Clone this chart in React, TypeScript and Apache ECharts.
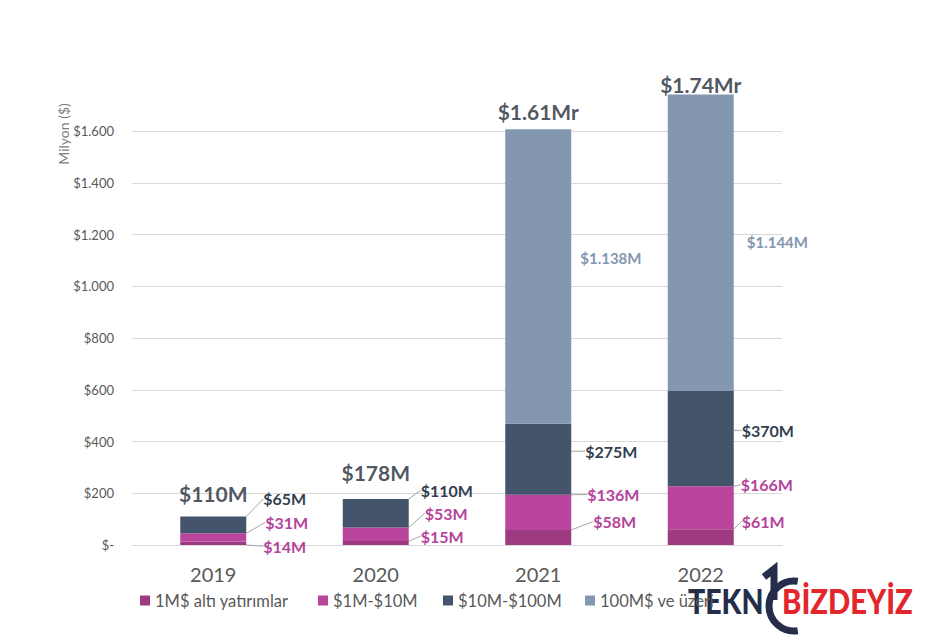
import React, { useEffect, useRef } from "react";
import * as echarts from "echarts";

// ---- data ----
const years = ["2019", "2020", "2021", "2022"];
const seriesNames = ["1M$ altı yatırımlar", "$1M-$10M", "$10M-$100M", "100M$ ve üzeri"];
const under1M = [14, 15, 58, 61];
const from1To10M = [31, 53, 136, 166];
const from10To100M = [65, 110, 275, 370];
const over100M: (number | null)[] = [null, null, 1138, 1144];
const yAxisName = "Milyon ($)";

// ---- style ----
const FONT = "Lato, 'Open Sans', sans-serif";
const barColors = ["#9E3A7F", "#BA459C", "#44546A", "#8497B0"];
const labelColors = ["#B4449A", "#B4449A", "#333F50", "#8497B0"];
// [dx from bar right edge, dy from segment centre]
const segOffsets: number[][][] = [
  [[17, 3], [12, -7], [22, -16], [8, -16]],
  [[19, -15], [16, -21], [16, -18], [7, -23]],
  [[17, -26], [12, -23], [14, -8], [8, -8]],
  [[9, -18], [9, -18], [9, -18], [13, -1]],
];
const totalUp = [23, 26, 18, 10];
const legendLefts = [140, 318, 443, 585];

const fmtThousands = (v: number) => String(v).replace(/\B(?=(\d{3})+(?!\d))/g, ".");
const fmtSeg = (v: number) => "$" + fmtThousands(v) + "M";
const fmtTotal = (t: number) => (t >= 1000 ? "$" + (t / 1000).toFixed(2) + "Mr" : "$" + t + "M");

export default function App() {
  const ref = useRef<HTMLDivElement>(null);
  useEffect(() => {
    if (!ref.current) return;
    const chart = echarts.init(ref.current, undefined, { renderer: "svg" });
    const allSeries = [under1M, from1To10M, from10To100M, over100M];
    const totals = years.map((_, i) =>
      allSeries.reduce((s, arr) => s + ((arr[i] as number) || 0), 0)
    );

    const barSeries = allSeries.map((arr, s) => ({
      name: seriesNames[s],
      type: "bar",
      stack: "total",
      barWidth: 66,
      clip: false,
      itemStyle: { color: barColors[s] },
      data: arr,
      label: {
        show: true,
        position: "right",
        formatter: (p: any) => fmtSeg(p.value),
        color: labelColors[s],
        fontFamily: FONT,
        fontWeight: "bold",
        fontSize: s === 3 ? 15 : 16,
      },
      labelLine: {
        show: s !== 3,
        lineStyle: { color: "#a6a6a6", width: 1 },
      },
      labelLayout: (p: any) => {
        const o = segOffsets[s][p.dataIndex];
        return {
          x: p.rect.x + p.rect.width + o[0],
          y: p.rect.y + p.rect.height / 2 + o[1],
          align: "left",
          verticalAlign: "middle",
        };
      },
    }));

    const option: any = {
      animation: false,
      backgroundColor: "#ffffff",
      textStyle: { fontFamily: FONT },
      grid: { left: 132, right: 153, top: 131, bottom: 95 },
      legend: seriesNames.map((n, i) => ({
        data: [n],
        left: legendLefts[i],
        top: 592,
        padding: 0,
        icon: "rect",
        itemWidth: 10,
        itemHeight: 10,
        selectedMode: false,
        textStyle: { fontSize: 16.5, color: "#595959", fontFamily: FONT },
      })),
      xAxis: {
        type: "category",
        data: years,
        axisLine: { lineStyle: { color: "#d9d9d9" } },
        axisTick: { show: false },
        axisLabel: { fontSize: 20, color: "#595959", margin: 19, fontFamily: FONT },
      },
      yAxis: {
        type: "value",
        min: 0,
        max: 1600,
        interval: 200,
        axisLine: { show: false },
        axisTick: { show: false },
        splitLine: { lineStyle: { color: "#d9d9d9", width: 1 } },
        axisLabel: {
          fontSize: 13,
          color: "#595959",
          margin: 18,
          fontFamily: FONT,
          formatter: (v: number) => (v === 0 ? "$-" : "$" + fmtThousands(v)),
        },
      },
      series: [
        ...barSeries,
        {
          type: "scatter",
          symbolSize: 0,
          clip: false,
          data: totals,
          silent: true,
          label: {
            show: true,
            position: "top",
            formatter: (p: any) => fmtTotal(p.value),
            color: "#1f2a38",
            fontWeight: "bold",
            fontSize: 21,
            fontFamily: FONT,
          },
          labelLayout: (p: any) => ({
            x: p.rect.x + p.rect.width / 2,
            y: p.rect.y + p.rect.height / 2 - totalUp[p.dataIndex],
            align: "center",
            verticalAlign: "middle",
          }),
        },
      ],
      graphic: [
        {
          type: "text",
          x: 63,
          y: 134,
          rotation: Math.PI / 2,
          style: {
            text: yAxisName,
            fill: "#7f7f7f",
            font: `14px 'Liberation Sans Narrow', ${FONT}`,
            align: "center",
            verticalAlign: "middle",
          },
        },
        // watermark logo
        {
          type: "group",
          z: 100,
          children: [
            {
              type: "text",
              x: 688,
              y: 618,
              scaleX: 0.84,
              style: {
                text: "TEKN",
                fill: "#252d4a",
                font: `900 34px ${FONT}`,
                align: "left",
                verticalAlign: "bottom",
              },
            },
            {
              type: "arc",
              shape: { cx: 794, cy: 606, r: 25, startAngle: Math.PI / 2 - 0.15, endAngle: (3 * Math.PI) / 2 + 0.15, clockwise: true },
              style: { stroke: "#252d4a", lineWidth: 7, fill: "none" },
            },
            {
              type: "polyline",
              shape: { points: [[764, 577], [774, 569], [774, 600]] },
              style: { stroke: "#252d4a", lineWidth: 7, fill: "none" },
            },
            {
              type: "text",
              x: 782,
              y: 618,
              scaleX: 0.86,
              style: {
                text: "BİZDEYİZ",
                fill: "#e3262b",
                font: `900 34px ${FONT}`,
                align: "left",
                verticalAlign: "bottom",
              },
            },
          ],
        },
      ],
    };
    chart.setOption(option);
    return () => chart.dispose();
  }, []);
  return (
    <div
      ref={ref}
      style={{ position: "fixed", left: 0, top: 0, width: 935, height: 640, background: "#fff" }}
    />
  );
}
